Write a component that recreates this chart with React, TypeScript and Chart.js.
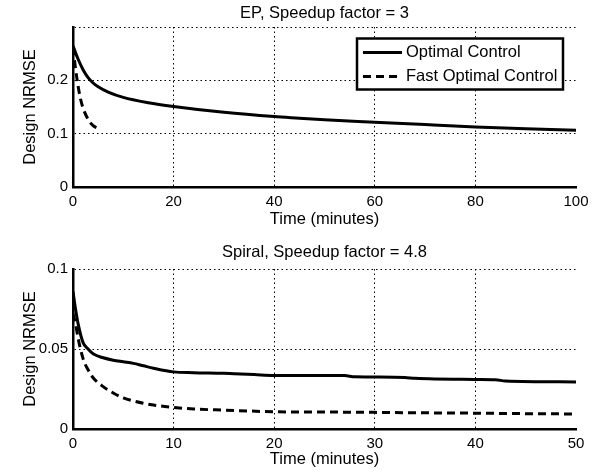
import React, { useEffect, useRef } from "react";
import { Chart, registerables } from "chart.js";
Chart.register(...registerables);

const FONT = "'Liberation Sans', Arial, Helvetica, sans-serif";

const epTitle = "EP, Speedup factor = 3";
const spiralTitle = "Spiral, Speedup factor = 4.8";
const xLabel = "Time (minutes)";
const yLabel = "Design NRMSE";
const seriesNames = ["Optimal Control", "Fast Optimal Control"];

// EP subplot
const epOptT = [0, 0.5, 1, 2, 3, 4, 5, 7, 10, 15, 20, 30, 40, 45, 50, 60, 70, 80, 90, 100];
const epOptV = [0.265, 0.252, 0.240, 0.220, 0.205, 0.195, 0.188, 0.178, 0.168, 0.158, 0.151, 0.140, 0.132, 0.129, 0.126, 0.1215, 0.117, 0.1127, 0.109, 0.1065];
const epFastT = [0, 0.5, 1, 1.5, 2, 3, 4, 5];
const epFastV = [0.262, 0.222, 0.190, 0.165, 0.148, 0.127, 0.115, 0.110];
const epXTicks = [0, 20, 40, 60, 80, 100];
const epYTicks = [0, 0.1, 0.2, 0.3];

// Spiral subplot
const spOptT = [0, 0.25, 0.5, 1, 1.5, 2, 3, 4, 5, 6, 7, 8, 10, 12, 15, 16, 18, 20, 25, 27, 28, 30, 33, 34, 40, 42, 43, 50];
const spOptV = [0.086, 0.075, 0.066, 0.054, 0.050, 0.047, 0.0445, 0.043, 0.042, 0.041, 0.0395, 0.038, 0.0357, 0.0352, 0.0348, 0.0345, 0.034, 0.0335, 0.0335, 0.0334, 0.0326, 0.0325, 0.0322, 0.0317, 0.031, 0.0308, 0.030, 0.0294];
const spFastT = [0, 0.25, 0.5, 1, 1.5, 2, 3, 4, 5, 6, 8, 10, 12, 15, 20, 25, 30, 35, 40, 45, 50];
const spFastV = [0.072, 0.066, 0.057, 0.044, 0.037, 0.032, 0.0265, 0.0225, 0.0195, 0.0175, 0.015, 0.0135, 0.0125, 0.0118, 0.0108, 0.0106, 0.0104, 0.0101, 0.0099, 0.0096, 0.0094];
const spXTicks = [0, 10, 20, 30, 40, 50];
const spYTicks = [0, 0.05, 0.1];

const pts = (t: number[], v: number[]) => t.map((x, i) => ({ x, y: v[i] }));

const decorPlugin = {
  id: "decor",
  afterDraw(chart: any, _args: any, opts: any) {
    const { ctx, chartArea: a } = chart;
    ctx.save();
    ctx.fillStyle = "#000";
    ctx.font = `16.5px ${FONT}`;
    ctx.textAlign = "center";
    ctx.textBaseline = "alphabetic";
    ctx.fillText(opts.title, (a.left + a.right) / 2, a.top - opts.titleGap);
    if (opts.legend) {
      const w = 206, h = 51;
      const L = a.right - 13 - w, T = a.top + 11.5;
      ctx.fillStyle = "#fff";
      ctx.fillRect(L, T, w, h);
      ctx.strokeStyle = "#000";
      ctx.lineWidth = 2.5;
      ctx.strokeRect(L, T, w, h);
      chart.data.datasets.forEach((ds: any, i: number) => {
        const y = T + 14 + i * 24;
        ctx.beginPath();
        ctx.setLineDash(ds.borderDash || []);
        ctx.lineWidth = 3;
        ctx.moveTo(L + 6, y);
        ctx.lineTo(L + 45, y);
        ctx.stroke();
        ctx.setLineDash([]);
        ctx.fillStyle = "#000";
        ctx.textAlign = "left";
        ctx.textBaseline = "middle";
        ctx.fillText(ds.label, L + 49, y);
      });
    }
    ctx.restore();
  },
};

function makeConfig(p: any) {
  const xMax = p.xTicks[p.xTicks.length - 1];
  const yMax = p.yTicks[p.yTicks.length - 1];
  return {
    type: "line",
    data: {
      datasets: [
        {
          label: seriesNames[0],
          data: pts(p.opt[0], p.opt[1]),
          borderColor: "#000",
          borderWidth: 3,
          pointRadius: 0,
          cubicInterpolationMode: "monotone",
          fill: false,
        },
        {
          label: seriesNames[1],
          data: pts(p.fast[0], p.fast[1]),
          borderColor: "#000",
          borderWidth: 3,
          borderDash: [8, 5],
          pointRadius: 0,
          cubicInterpolationMode: "monotone",
          fill: false,
        },
      ],
    },
    options: {
      responsive: false,
      animation: false,
      devicePixelRatio: 1,
      layout: { padding: { top: p.padTop, right: 26, left: 0, bottom: 0 } },
      plugins: {
        legend: { display: false },
        tooltip: { enabled: false },
        title: { display: false },
        decor: { title: p.title, legend: p.legend, titleGap: p.titleGap },
      },
      scales: {
        x: {
          type: "linear",
          min: 0,
          max: xMax,
          afterBuildTicks: (s: any) => { s.ticks = p.xTicks.map((v: number) => ({ value: v })); },
          afterFit: (s: any) => { s.height = p.xHeight; },
          ticks: {
            color: "#000",
            font: { family: FONT, size: 15 },
            padding: 6,
            maxRotation: 0,
            callback: (v: number) => String(v),
          },
          grid: {
            drawTicks: false,
            lineWidth: 1,
            color: (c: any) => (c.tick && (c.tick.value === 0 || c.tick.value === xMax) ? "rgba(0,0,0,0)" : "#000"),
          },
          border: { display: true, color: "#000", width: 2.5, dash: [1.5, 3] },
          title: {
            display: true,
            text: xLabel,
            color: "#000",
            font: { family: FONT, size: 16.5 },
            padding: { top: 0, bottom: p.xTitlePad },
          },
        },
        y: {
          type: "linear",
          min: 0,
          max: yMax,
          afterBuildTicks: (s: any) => { s.ticks = p.yTicks.map((v: number) => ({ value: v })); },
          afterFit: (s: any) => { s.width = 73; },
          ticks: {
            color: "#000",
            font: { family: FONT, size: 15 },
            padding: 5,
            callback: (v: number) => (p.hideTop && Math.abs(v - yMax) < 1e-9 ? "" : String(Number(v.toFixed(3)))),
          },
          grid: {
            drawTicks: false,
            lineWidth: 1,
            color: (c: any) => (c.tick && c.tick.value === 0 ? "rgba(0,0,0,0)" : "#000"),
          },
          border: { display: true, color: "#000", width: 2.5, dash: [1.5, 3] },
          title: {
            display: true,
            text: yLabel,
            color: "#000",
            font: { family: FONT, size: 16.5 },
            padding: { top: 21, bottom: 0 },
          },
        },
      },
    },
    plugins: [decorPlugin],
  };
}

function Panel(props: any) {
  const ref = useRef<HTMLCanvasElement>(null);
  useEffect(() => {
    const chart = new Chart(ref.current as any, makeConfig(props.cfg) as any);
    return () => chart.destroy();
  }, []);
  return <canvas ref={ref} width={602} height={237} style={{ display: "block", width: 602, height: 237 }} />;
}

export default function App() {
  const top = {
    title: epTitle,
    opt: [epOptT, epOptV],
    fast: [epFastT, epFastV],
    xTicks: epXTicks,
    yTicks: epYTicks,
    hideTop: true,
    legend: true,
    padTop: 27,
    xHeight: 50,
    xTitlePad: 8,
    titleGap: 9,
  };
  const bottom = {
    title: spiralTitle,
    opt: [spOptT, spOptV],
    fast: [spFastT, spFastV],
    xTicks: spXTicks,
    yTicks: spYTicks,
    hideTop: false,
    legend: false,
    padTop: 32,
    xHeight: 45,
    xTitlePad: 5,
    titleGap: 12,
  };
  return (
    <div style={{ position: "fixed", left: 0, top: 0, width: 602, height: 474, background: "#fff" }}>
      <Panel cfg={top} />
      <Panel cfg={bottom} />
    </div>
  );
}
